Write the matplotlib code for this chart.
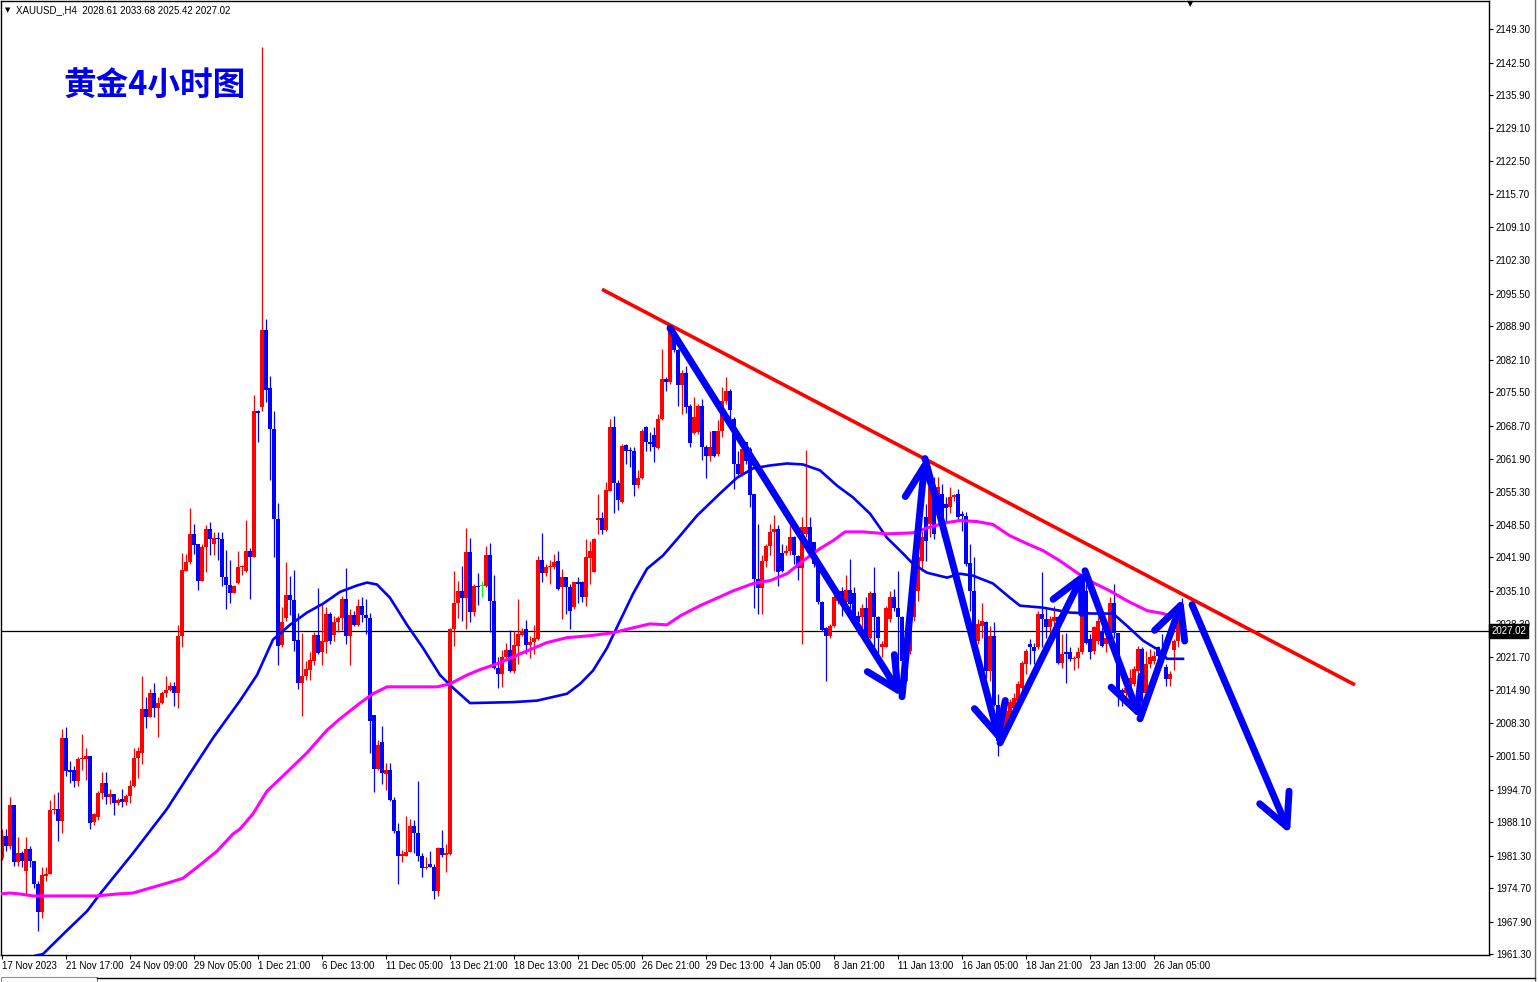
import numpy as np
import matplotlib.pyplot as plt
from matplotlib.lines import Line2D
from matplotlib.patches import Rectangle
import matplotlib.transforms as mtransforms

# ---------------- data (XAUUSD H4) ----------------
opens = [
    1980.9, 1985.3, 1983.3, 1991.6, 1980.1, 1981.9, 1978.2, 1982.6, 1980.2, 1975.6,
    1969.9, 1977.2, 1977.6, 1990.5, 1990.7, 1988.4, 2005.3, 1998.7, 1998.6, 1996.5,
    2000.9, 2000.9, 2001.6, 1988.1, 1989.2, 1994.1, 1996.1, 1993.3, 1993.8, 1991.9,
    1992.9, 1992.1, 1993.5, 1995.5, 2001.1, 2002.1, 2011.1, 2009.4, 2014.3, 2011.3,
    2012.3, 2014.3, 2015.0, 2015.8, 2014.3, 2026.0, 2039.1, 2040.9, 2046.7, 2044.6,
    2037.2, 2044.1, 2047.7, 2044.6, 2045.9, 2045.7, 2038.0, 2036.3, 2034.6, 2036.8,
    2040.0, 2039.2, 2043.3, 2042.0, 2071.6, 2072.4, 2088.1, 2076.4, 2068.0, 2049.8,
    2024.1, 2029.5, 2034.2, 2033.2, 2025.1, 2016.4, 2017.8, 2019.0, 2020.9, 2026.2,
    2022.6, 2024.8, 2030.4, 2026.2, 2028.8, 2029.5, 2033.5, 2025.9, 2030.2, 2028.2,
    2032.1, 2030.2, 2029.6, 2009.9, 1999.0, 2004.3, 1997.9, 1998.7, 1992.6, 1986.4,
    1981.2, 1981.3, 1982.0, 1987.3, 1985.9, 1981.2, 1978.8, 1979.5, 1978.9, 1974.1,
    1982.8, 1981.5, 1981.7, 2027.3, 2032.6, 2035.0, 2033.7, 2043.1, 2030.9, 2036.0,
    2036.0, 2036.0, 2042.5, 2033.1, 2019.4, 2018.3, 2021.6, 2023.1, 2018.9, 2024.0,
    2026.2, 2027.4, 2024.2, 2024.8, 2025.3, 2041.4, 2038.7, 2039.9, 2039.9, 2041.1,
    2035.8, 2038.0, 2035.8, 2031.8, 2036.9, 2036.9, 2033.8, 2041.8, 2038.9, 2049.5,
    2049.9, 2047.4, 2055.4, 2068.4, 2057.0, 2053.1, 2064.7, 2063.8, 2063.6, 2056.7,
    2058.1, 2068.4, 2065.3, 2066.7, 2064.2, 2070.1, 2078.2, 2077.6, 2087.4, 2084.0,
    2076.9, 2079.4, 2072.6, 2067.2, 2067.4, 2072.6, 2064.4, 2062.6, 2067.7, 2063.0,
    2067.7, 2073.8, 2075.8, 2070.1, 2060.9, 2058.9, 2065.3, 2064.0, 2054.7, 2037.5,
    2035.7, 2041.2, 2044.3, 2047.0, 2047.7, 2042.9, 2042.9, 2043.3, 2046.1, 2042.1,
    2039.7, 2046.7, 2048.0, 2045.0, 2040.6, 2032.8, 2027.5, 2026.0, 2028.0, 2033.1,
    2035.1, 2032.8, 2035.3, 2034.6, 2030.0, 2029.8, 2031.6, 2025.6, 2034.6, 2029.7,
    2023.6, 2023.7, 2029.4, 2033.8, 2031.7, 2029.7, 2016.8, 2022.9, 2029.7, 2035.1,
    2041.2, 2050.1, 2048.7, 2055.5, 2051.4, 2054.8, 2052.8, 2052.1, 2054.1, 2054.7,
    2050.6, 2050.4, 2040.7, 2035.1, 2024.9, 2028.0, 2028.7, 2018.8, 2026.0, 2012.0,
    2004.6, 2007.3, 2009.3, 2011.4, 2012.7, 2015.4, 2020.2, 2024.3, 2023.6, 2023.6,
    2030.4, 2029.3, 2027.7, 2029.0, 2029.7, 2020.5, 2022.6, 2022.6, 2021.2, 2021.5,
    2022.6, 2035.1, 2025.3, 2022.9, 2024.9, 2027.0, 2024.3, 2025.5, 2032.7, 2026.6,
    2014.9, 2014.4, 2015.1, 2016.1, 2018.8, 2023.2, 2014.4, 2020.2, 2020.9, 2023.6,
    2022.9, 2019.6, 2017.1, 2023.0, 2024.9, 2028.61,
]
highs = [
    1986.7, 1986.7, 1993.2, 1991.6, 1985.1, 1982.3, 1985.1, 1983.3, 1980.2, 1976.2,
    1978.9, 1978.9, 1992.6, 1993.9, 1994.3, 2007.0, 2007.5, 2000.6, 1999.6, 2001.3,
    2006.1, 2003.1, 2001.6, 1990.0, 1994.5, 1998.2, 1998.3, 1994.8, 1993.8, 1993.0,
    1994.8, 1993.8, 1996.6, 2003.1, 2003.4, 2017.9, 2013.6, 2015.2, 2016.3, 2013.5,
    2014.8, 2017.9, 2016.5, 2016.5, 2028.2, 2042.8, 2042.6, 2052.0, 2048.7, 2044.6,
    2044.6, 2048.4, 2049.2, 2047.0, 2047.0, 2047.0, 2043.4, 2041.3, 2036.3, 2043.3,
    2040.3, 2049.6, 2043.9, 2075.0, 2071.9, 2145.6, 2090.3, 2078.7, 2071.6, 2053.0,
    2031.8, 2041.0, 2038.1, 2039.4, 2030.6, 2026.5, 2020.9, 2022.6, 2026.8, 2035.7,
    2032.6, 2031.8, 2030.9, 2029.9, 2029.9, 2034.1, 2039.7, 2031.5, 2031.0, 2033.5,
    2033.9, 2033.5, 2030.6, 2009.9, 2004.7, 2007.7, 2000.2, 2000.2, 1993.2, 1988.0,
    1982.5, 1989.3, 1988.7, 1988.5, 1996.5, 1981.9, 1981.1, 1982.3, 1979.5, 1983.0,
    1986.5, 1983.6, 2027.5, 2039.2, 2037.1, 2040.2, 2047.8, 2045.8, 2036.5, 2038.7,
    2037.2, 2044.3, 2044.8, 2038.4, 2021.6, 2023.1, 2024.6, 2027.2, 2026.9, 2033.5,
    2027.6, 2029.1, 2026.0, 2028.2, 2042.1, 2046.8, 2040.6, 2041.4, 2042.6, 2043.3,
    2039.6, 2038.0, 2036.5, 2036.9, 2037.9, 2037.2, 2045.7, 2045.3, 2045.9, 2054.8,
    2051.1, 2057.2, 2070.1, 2070.6, 2057.7, 2064.9, 2065.0, 2064.3, 2064.3, 2059.7,
    2068.1, 2068.7, 2067.4, 2068.5, 2071.1, 2084.3, 2078.6, 2088.2, 2087.7, 2084.3,
    2079.9, 2080.9, 2073.1, 2074.5, 2073.1, 2074.2, 2064.7, 2067.7, 2067.7, 2069.8,
    2076.5, 2078.5, 2076.2, 2070.4, 2063.6, 2064.6, 2065.3, 2064.3, 2054.8, 2048.6,
    2042.3, 2044.6, 2048.6, 2050.6, 2048.4, 2044.6, 2044.5, 2048.4, 2046.3, 2042.3,
    2050.1, 2063.8, 2050.1, 2045.0, 2040.9, 2033.1, 2027.7, 2028.3, 2035.8, 2035.3,
    2035.8, 2038.4, 2041.6, 2035.8, 2031.1, 2032.4, 2033.8, 2035.1, 2039.9, 2030.0,
    2025.0, 2032.1, 2035.1, 2035.5, 2039.2, 2030.0, 2023.2, 2032.4, 2040.6, 2043.3,
    2047.3, 2052.8, 2058.2, 2058.2, 2058.3, 2056.8, 2054.1, 2056.2, 2054.8, 2055.8,
    2051.4, 2051.1, 2044.6, 2041.9, 2029.3, 2032.7, 2028.9, 2028.0, 2028.7, 2014.1,
    2010.0, 2011.7, 2013.1, 2014.4, 2016.8, 2020.9, 2023.2, 2025.3, 2024.6, 2031.0,
    2039.0, 2031.4, 2030.0, 2032.1, 2030.0, 2026.3, 2026.6, 2023.6, 2021.9, 2023.7,
    2036.1, 2036.5, 2026.3, 2028.0, 2029.7, 2027.7, 2026.2, 2033.8, 2036.5, 2026.6,
    2015.3, 2015.8, 2019.2, 2019.8, 2023.9, 2023.6, 2022.9, 2023.2, 2022.9, 2023.9,
    2026.4, 2020.2, 2018.8, 2025.3, 2029.5, 2033.68,
]
lows = [
    1980.5, 1982.3, 1982.6, 1979.2, 1979.2, 1978.9, 1973.5, 1978.9, 1974.8, 1966.0,
    1968.7, 1976.2, 1977.6, 1989.7, 1984.2, 1985.8, 1997.5, 1996.0, 1995.3, 1995.5,
    1998.7, 1996.6, 1986.7, 1987.5, 1988.5, 1992.8, 1991.8, 1991.8, 1989.6, 1991.5,
    1991.2, 1991.5, 1991.9, 1995.3, 1997.0, 2000.0, 2007.3, 2009.4, 2009.4, 2005.5,
    2012.1, 2013.5, 2014.8, 2011.8, 2011.4, 2023.6, 2039.1, 2040.6, 2042.7, 2035.2,
    2037.2, 2038.9, 2042.3, 2042.3, 2041.3, 2036.2, 2031.4, 2032.6, 2034.6, 2036.5,
    2038.3, 2038.9, 2033.5, 2042.0, 2065.4, 2071.6, 2073.5, 2057.7, 2042.0, 2020.0,
    2023.6, 2029.0, 2030.2, 2022.8, 2015.2, 2009.7, 2017.0, 2016.9, 2020.0, 2022.3,
    2020.0, 2022.5, 2024.3, 2024.9, 2026.8, 2027.1, 2024.3, 2020.0, 2028.0, 2028.0,
    2028.8, 2026.4, 2002.1, 1994.3, 1998.7, 1995.9, 1994.6, 1992.4, 1985.9, 1975.5,
    1980.0, 1981.2, 1982.0, 1981.9, 1980.3, 1976.9, 1978.6, 1978.9, 1972.5, 1973.0,
    1981.1, 1978.0, 1981.5, 2024.0, 2029.5, 2029.0, 2027.3, 2028.8, 2029.9, 2032.3,
    2033.8, 2035.8, 2026.7, 2019.2, 2015.4, 2015.6, 2021.3, 2018.7, 2018.5, 2020.2,
    2026.0, 2022.3, 2021.5, 2022.3, 2025.1, 2036.9, 2038.2, 2036.5, 2039.6, 2035.3,
    2029.4, 2030.4, 2027.4, 2031.4, 2032.6, 2032.8, 2032.0, 2036.5, 2038.9, 2046.7,
    2046.7, 2047.2, 2055.4, 2050.9, 2051.6, 2052.9, 2060.9, 2060.3, 2054.3, 2056.0,
    2057.9, 2063.5, 2063.6, 2061.3, 2064.0, 2069.8, 2075.7, 2077.2, 2083.7, 2072.6,
    2071.1, 2071.2, 2064.3, 2067.0, 2067.0, 2061.7, 2058.1, 2061.6, 2062.3, 2062.6,
    2066.3, 2073.1, 2068.4, 2055.8, 2058.5, 2058.5, 2060.9, 2052.2, 2031.6, 2030.4,
    2030.4, 2039.9, 2042.3, 2039.2, 2036.1, 2038.9, 2042.3, 2042.3, 2040.6, 2037.3,
    2024.3, 2046.0, 2042.6, 2040.0, 2032.4, 2027.0, 2016.7, 2025.6, 2027.7, 2032.4,
    2030.0, 2031.1, 2031.7, 2028.3, 2026.3, 2027.5, 2025.3, 2025.3, 2022.2, 2022.2,
    2021.6, 2023.6, 2028.7, 2031.1, 2018.5, 2019.0, 2016.5, 2022.2, 2029.0, 2033.1,
    2039.2, 2041.2, 2046.0, 2045.6, 2050.7, 2046.0, 2049.2, 2050.9, 2053.4, 2049.5,
    2047.3, 2040.2, 2031.0, 2024.4, 2024.4, 2025.6, 2017.5, 2016.8, 2011.7, 2001.5,
    2003.9, 2006.6, 2007.3, 2010.0, 2011.7, 2013.4, 2018.2, 2020.2, 2020.2, 2023.2,
    2023.6, 2025.6, 2026.3, 2027.0, 2020.2, 2019.5, 2016.3, 2020.9, 2019.0, 2019.5,
    2022.2, 2024.3, 2021.2, 2022.2, 2024.3, 2023.6, 2022.6, 2025.3, 2025.6, 2011.7,
    2011.7, 2013.4, 2015.1, 2015.8, 2017.5, 2010.7, 2013.4, 2019.5, 2020.2, 2019.5,
    2021.2, 2015.8, 2015.8, 2019.0, 2023.6, 2025.42,
]
closes = [
    1985.3, 1983.3, 1991.6, 1980.1, 1981.9, 1980.2, 1982.6, 1980.2, 1975.6, 1969.9,
    1977.4, 1977.5, 1990.5, 1990.8, 1988.4, 2005.3, 1998.4, 1998.2, 1996.4, 2000.9,
    2001.2, 2001.6, 1988.0, 1989.7, 1994.1, 1996.1, 1993.3, 1993.8, 1991.9, 1992.6,
    1992.1, 1993.5, 1995.5, 2001.1, 2002.5, 2011.1, 2009.4, 2014.3, 2011.4, 2012.3,
    2014.3, 2015.0, 2015.8, 2014.3, 2026.0, 2039.4, 2041.0, 2046.7, 2044.4, 2037.2,
    2044.1, 2047.7, 2045.7, 2045.9, 2045.7, 2038.0, 2036.3, 2034.6, 2036.0, 2039.9,
    2040.2, 2043.3, 2042.0, 2071.6, 2071.3, 2088.1, 2076.0, 2068.0, 2049.7, 2024.0,
    2028.7, 2034.2, 2033.2, 2024.9, 2016.4, 2017.9, 2019.2, 2021.0, 2026.2, 2022.5,
    2024.9, 2030.4, 2024.9, 2028.8, 2029.6, 2033.5, 2025.9, 2030.2, 2028.2, 2032.1,
    2030.2, 2029.5, 2008.6, 1999.0, 2003.8, 1998.1, 1998.7, 1992.6, 1986.4, 1981.2,
    1981.7, 1982.0, 1987.3, 1985.9, 1981.2, 1978.8, 1978.9, 1978.9, 1974.1, 1982.8,
    1981.4, 1981.8, 2027.3, 2032.6, 2035.0, 2033.7, 2043.1, 2030.9, 2036.0, 2035.8,
    2036.0, 2042.5, 2033.0, 2019.4, 2018.3, 2021.6, 2023.1, 2018.9, 2024.2, 2026.3,
    2027.0, 2024.2, 2024.8, 2025.5, 2041.4, 2038.7, 2040.0, 2040.0, 2040.9, 2035.5,
    2037.9, 2035.8, 2031.0, 2036.9, 2036.5, 2033.8, 2041.9, 2043.2, 2045.7, 2049.9,
    2047.4, 2055.7, 2068.5, 2057.0, 2053.5, 2064.5, 2063.6, 2063.5, 2056.7, 2058.1,
    2067.6, 2065.3, 2065.0, 2064.3, 2070.1, 2078.2, 2077.6, 2087.7, 2084.0, 2076.9,
    2079.4, 2072.5, 2065.1, 2070.4, 2072.6, 2064.4, 2062.6, 2064.4, 2062.6, 2067.7,
    2073.8, 2075.8, 2071.8, 2060.9, 2058.9, 2064.0, 2061.6, 2054.5, 2037.5, 2035.7,
    2041.2, 2044.3, 2047.0, 2047.7, 2038.9, 2039.2, 2043.3, 2046.1, 2042.3, 2039.7,
    2048.0, 2048.0, 2042.9, 2040.6, 2032.8, 2027.1, 2026.0, 2028.0, 2033.8, 2035.1,
    2032.4, 2035.3, 2032.4, 2029.4, 2028.7, 2031.6, 2025.6, 2034.6, 2029.7, 2025.6,
    2024.3, 2031.6, 2033.8, 2031.7, 2029.7, 2020.9, 2022.9, 2029.7, 2039.2, 2041.9,
    2046.0, 2045.3, 2056.2, 2046.7, 2056.2, 2048.7, 2052.0, 2054.1, 2054.5, 2050.1,
    2050.4, 2040.5, 2035.1, 2024.9, 2028.3, 2028.9, 2018.8, 2026.0, 2012.0, 2004.6,
    2008.0, 2010.7, 2012.6, 2013.4, 2016.1, 2020.5, 2022.9, 2023.6, 2022.9, 2030.4,
    2029.3, 2027.7, 2029.3, 2029.7, 2020.5, 2022.2, 2022.2, 2021.2, 2021.5, 2022.6,
    2035.1, 2024.6, 2022.6, 2027.7, 2029.0, 2023.9, 2025.6, 2032.7, 2026.6, 2014.8,
    2013.4, 2015.3, 2017.5, 2019.2, 2023.2, 2014.4, 2020.2, 2021.7, 2021.9, 2021.9,
    2021.9, 2017.1, 2018.3, 2024.9, 2028.6, 2027.02,
]

# moving averages (bar index, price)
ma_fast_bar = [5, 6.5, 10.25, 16.25, 21.25, 24.5, 32.75, 41.25, 46.25, 52.75, 59.5, 63.75,
               67.75, 72, 76.25, 80.25, 84.5, 88.75, 91.25, 93.75, 97, 101.25, 105.25,
               109.5, 112.75, 117, 127.75, 133.75, 141.25, 144.5, 147.75, 151.25, 154.5,
               157.75, 161.25, 165.25, 169.5, 173.75, 179.5, 183.75, 187.75, 192, 196.25,
               200.25, 204.5, 208.75, 212.75, 217, 221.25, 225.25, 227.75, 231.25, 236.25,
               239.5, 242.75, 247.75, 252, 254.5, 260.25, 267, 272.75, 277.75, 281.25,
               285.25, 289.5, 291.25, 295.25]
ma_fast_val = [1959.6, 1960.6, 1961.3, 1966.1, 1970.0, 1973.5, 1981.8, 1990.8, 1997.1, 2005.2,
               2012.8, 2018.0, 2025.2, 2028.2, 2030.7, 2032.5, 2034.9, 2036.2, 2036.8,
               2036.4, 2033.7, 2028.2, 2023.5, 2018.0, 2015.4, 2012.3, 2012.5, 2012.8,
               2014.2, 2016.2, 2018.9, 2023.5, 2029.0, 2034.5, 2039.6, 2042.3, 2046.3,
               2050.4, 2054.9, 2058.1, 2060.0, 2060.6, 2061.0, 2060.8, 2059.6, 2056.5,
               2054.1, 2050.8, 2045.9, 2042.7, 2040.6, 2038.8, 2037.8, 2038.6, 2038.2,
               2036.6, 2033.7, 2032.1, 2031.7, 2030.7, 2030.5, 2030.5, 2028.0, 2025.0,
               2022.9, 2021.3, 2021.3]
ma_slow_bar = [-0.5, 2, 4.5, 7.75, 23.75, 28.75, 32.75, 37, 41.25, 45.25, 49.5, 53.75, 57.75,
               59.5, 62.75, 66.25, 69.5, 76.25, 81.25, 84.5, 89.5, 92.75, 96.25, 108.75,
               112, 116.25, 119.5, 124.5, 129.5, 136.25, 141.25, 147, 152.75, 157.75, 162,
               166.25, 169.5, 174.5, 179.5, 182.75, 187.75, 192, 196.25, 200.25, 204.5,
               207.75, 210.75, 215.25, 221.25, 227.75, 231.25, 236.25, 239.5, 243.75,
               247.75, 252, 256.25, 260.25, 264.5, 268.75, 272.75, 277, 281.25, 286.25,
               290.25, 295.25]
ma_slow_val = [1973.5, 1973.7, 1973.5, 1973.1, 1973.1, 1973.5, 1973.7, 1974.7, 1975.7, 1976.7,
               1979.4, 1982.2, 1985.7, 1986.7, 1989.8, 1994.4, 1996.9, 2002.2, 2006.8,
               2009.1, 2012.3, 2014.2, 2015.6, 2015.6, 2016.2, 2018.0, 2019.1, 2020.5,
               2022.3, 2024.6, 2025.6, 2026.0, 2026.6, 2027.6, 2028.4, 2028.2, 2030.0,
               2032.1, 2033.9, 2035.1, 2036.6, 2037.2, 2038.6, 2041.2, 2043.7, 2045.3,
               2047.1, 2047.1, 2046.7, 2046.9, 2047.9, 2049.0, 2049.4, 2049.2, 2048.6,
               2046.3, 2044.7, 2043.3, 2041.2, 2038.8, 2036.8, 2035.1, 2033.1, 2031.1,
               2030.5, 2029.0]

# hand drawn objects
trend_bar = [150, 338.25]
trend_val = [2096.4, 2016.0]
wave_bar = [167, 225, 230.75, 249.5, 270.75, 284.5, 295.25]
wave_val = [2088.5, 2013.6, 2062.0, 2004.2, 2039.2, 2009.1, 2033.6]
proj_bar = [297.5, 322]
proj_val = [2032.3, 1985.7]

last_price = 2027.02
ytick_vals = [2149.30, 2142.50, 2135.90, 2129.10, 2122.50, 2115.70, 2109.10, 2102.30,
              2095.50, 2088.90, 2082.10, 2075.50, 2068.70, 2061.90, 2055.30, 2048.50,
              2041.90, 2035.10, 2028.30, 2021.70, 2014.90, 2008.30, 2001.50, 1994.70,
              1988.10, 1981.30, 1974.70, 1967.90, 1961.30]
xtick_labels = ['17 Nov 2023', '21 Nov 17:00', '24 Nov 09:00', '29 Nov 05:00', '1 Dec 21:00',
                '6 Dec 13:00', '11 Dec 05:00', '13 Dec 21:00', '18 Dec 13:00', '21 Dec 05:00',
                '26 Dec 21:00', '29 Dec 13:00', '4 Jan 05:00', '8 Jan 21:00', '11 Jan 13:00',
                '16 Jan 05:00', '18 Jan 21:00', '23 Jan 13:00', '26 Jan 05:00']
xtick_bars = list(range(0, 289, 16))

# ---------------- figure ----------------
W, H = 1539, 982
fig = plt.figure(figsize=(W / 100, H / 100), dpi=100)
fig.patch.set_facecolor('white')
ax = fig.add_axes([1 / W, (H - 955) / H, 1488 / W, 954 / H])
ax.set_xlim(-0.25, 371.75)
ax.set_ylim(1961.1, 2155.0)

o = np.array(opens); h = np.array(highs); l = np.array(lows); c = np.array(closes)
h = np.maximum(h, np.maximum(o, c))
l = np.minimum(l, np.minimum(o, c))
x = np.arange(len(c))
up = c > o + 0.05
dn = c < o - 0.05
dj = ~(up | dn)
for m, col in ((up, '#ff0000'), (dn, '#0000ff'), (dj, '#00ff00')):
    ax.vlines(x[m], l[m], h[m], color=col, lw=0.9, zorder=2)
    ax.bar(x[m], np.maximum(np.abs(c - o)[m], 0.25), bottom=np.minimum(o, c)[m],
           width=0.78, color=col, lw=0, zorder=2)

ax.plot(ma_fast_bar, ma_fast_val, color='#0000ff', lw=1.9, zorder=3)
ax.plot(ma_slow_bar, ma_slow_val, color='#ff00ff', lw=2.2, zorder=3)
ax.axhline(last_price, color='black', lw=0.9, zorder=1)

ax.plot(trend_bar, trend_val, color='#ff0000', lw=2.6, zorder=4, solid_capstyle='butt')

astyle = '->,head_length=1.0,head_width=0.5'
for i in range(len(wave_bar) - 1):
    ax.annotate('', xy=(wave_bar[i + 1], wave_val[i + 1]), xytext=(wave_bar[i], wave_val[i]),
                arrowprops=dict(arrowstyle=astyle, lw=5, color='#0000ff', shrinkA=0,
                                shrinkB=0, mutation_scale=23), zorder=5)
ax.annotate('', xy=(proj_bar[1], proj_val[1]), xytext=(proj_bar[0], proj_val[0]),
            arrowprops=dict(arrowstyle=astyle, lw=5, color='#0000ff', shrinkA=0,
                            shrinkB=0, mutation_scale=23), zorder=5)

# axes styling
for s in ax.spines.values():
    s.set_color('black')
    s.set_linewidth(1.0)
ax.yaxis.tick_right()
ax.set_yticks(ytick_vals)
ax.set_yticklabels(['%.2f' % v for v in ytick_vals], fontfamily='Liberation Sans')
ax.tick_params(axis='y', direction='out', length=3, width=0.8, pad=2, labelsize=7)
ax.set_xticks(xtick_bars)
ax.set_xticklabels(xtick_labels, fontfamily='Liberation Sans', ha='left')
ax.tick_params(axis='x', direction='out', length=3, width=0.8, pad=1.5, labelsize=7)

# price tag of the last bar sits over the 2028.30 label, as on the terminal
tr = mtransforms.blended_transform_factory(ax.transAxes, ax.transData)
ax.text(1.0015, last_price, '2027.02', transform=tr, ha='left', va='center', color='white',
        fontsize=7, fontfamily='Liberation Sans', zorder=10, clip_on=False,
        bbox=dict(boxstyle='square,pad=0.2', fc='black', ec='black'))

# header and title
fig.text(5 / W, 1 - 10 / H, '\u25bc', fontsize=5, family='DejaVu Sans', va='center', ha='left')
fig.text(16 / W, 1 - 10 / H, 'XAUUSD_,H4  2028.61 2033.68 2025.42 2027.02', fontsize=7,
         family='Liberation Sans', va='center', ha='left')
fig.text(1190 / W, 1 - 4 / H, '\u25bc', fontsize=6, family='DejaVu Sans', va='center',
         ha='center')
fig.text(63 / W, 1 - 85 / H, '黄金4小时图', fontsize=23.5, fontweight='bold', color='#0000ee',
         family=['Noto Sans CJK SC', 'DejaVu Sans'], va='center', ha='left')

# window chrome
fig.add_artist(Line2D([1535 / W, 1535 / W], [0, 1], color='#707070', lw=1))
fig.add_artist(Line2D([97 / W, 1535 / W], [1 - 978 / H, 1 - 978 / H], color='black', lw=1))
fig.add_artist(Rectangle((1 / W, 0), 96 / W, 5 / H, fill=False, ec='#909090', lw=0.8))

fig.savefig('out.png', dpi=100)
